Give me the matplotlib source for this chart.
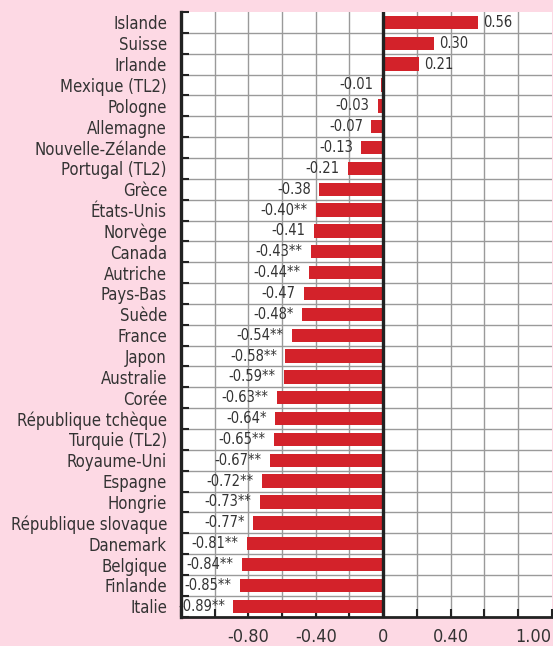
import matplotlib
matplotlib.use("Agg")
import matplotlib.pyplot as plt
from matplotlib import font_manager as fm
import numpy as np

# pick a narrow face if one is installed
names = {(f.name, f.stretch) for f in fm.fontManager.ttflist}
if any(nm == "Liberation Sans Narrow" for nm, _ in names):
    plt.rcParams['font.family'] = ['Liberation Sans Narrow', 'DejaVu Sans']
else:
    plt.rcParams['font.family'] = ['DejaVu Sans']
    plt.rcParams['font.stretch'] = 'condensed'

countries = ["Islande", "Suisse", "Irlande", "Mexique (TL2)", "Pologne", "Allemagne",
             "Nouvelle-Zélande", "Portugal (TL2)", "Grèce", "États-Unis", "Norvège",
             "Canada", "Autriche", "Pays-Bas", "Suède", "France", "Japon", "Australie",
             "Corée", "République tchèque", "Turquie (TL2)", "Royaume-Uni", "Espagne",
             "Hongrie", "République slovaque", "Danemark", "Belgique", "Finlande", "Italie"]
values = [0.56, 0.30, 0.21, -0.01, -0.03, -0.07, -0.13, -0.21, -0.38, -0.40, -0.41,
          -0.43, -0.44, -0.47, -0.48, -0.54, -0.58, -0.59, -0.63, -0.64, -0.65, -0.67,
          -0.72, -0.73, -0.77, -0.81, -0.84, -0.85, -0.89]
stars = ["", "", "", "", "", "", "", "", "", "**", "", "**", "**", "", "*", "**", "**",
         "**", "**", "*", "**", "**", "**", "**", "*", "**", "**", "**", "**"]

pink = "#fdd9e4"
red = "#d3222a"
text_col = "#333333"

fig = plt.figure(figsize=(5.53, 6.46), dpi=100, facecolor=pink)
ax = fig.add_axes([0.327, 0.0454, 0.6707, 0.936])
ax.set_facecolor("white")

n = len(countries)
y = np.arange(n)
ax.barh(y, values, height=0.64, color=red, zorder=3)

ax.set_xlim(-1.2, 1.0)
ax.set_ylim(n - 0.5, -0.5)

# grid: vertical every 0.2, horizontal between rows
for gx in np.arange(-1.0, 1.0, 0.2):
    ax.axvline(gx, color="#9a9a9a", lw=1.0, zorder=1)
for gy in np.arange(0.5, n - 0.5, 1):
    ax.axhline(gy, color="#9a9a9a", lw=1.0, zorder=1)
ax.axvline(0, color="#222222", lw=2.4, zorder=4)

for i, (v, s) in enumerate(zip(values, stars)):
    lab = f"{v:.2f}" + s
    if v >= 0:
        ax.annotate(lab, (v, i), xytext=(4, 0), textcoords="offset points",
                    ha="left", va="center", fontsize=10.5, color=text_col, zorder=5)
    else:
        ax.annotate(lab, (v, i), xytext=(-6, 0), textcoords="offset points",
                    ha="right", va="center", fontsize=10.5, color=text_col, zorder=5)

ax.set_yticks(np.arange(-0.5, n, 1))
ax.set_yticklabels([])
ax.set_yticks(y, minor=True)
ax.set_yticklabels(countries, minor=True, fontsize=12, color=text_col)
ax.tick_params(axis="y", which="minor", length=0, pad=10)
ax.tick_params(axis="y", which="major", direction="in", length=6, width=1.5, color="#222222")

ax.set_xticks(np.arange(-1.2, 1.01, 0.2))
xl = []
for t in np.arange(-1.2, 1.01, 0.2):
    t = round(t, 2)
    if t in (-0.8, -0.4, 0.4, 1.0):
        xl.append(f"{t:.2f}")
    elif t == 0:
        xl.append("0")
    else:
        xl.append("")
ax.set_xticklabels(xl, fontsize=13, color=text_col)
ax.get_xticklabels()[-1].set_ha("right")
ax.tick_params(axis="x", direction="in", length=6, width=1.5, color="#222222", pad=8.5)

for side in ("top", "right"):
    ax.spines[side].set_visible(False)
ax.spines["left"].set_linewidth(2.4)
ax.spines["left"].set_color("#222222")
ax.spines["bottom"].set_linewidth(2.0)
ax.spines["bottom"].set_color("#222222")
ax.spines["left"].set_zorder(6)
ax.spines["bottom"].set_zorder(6)

fig.savefig("out.png", dpi=100, facecolor=pink)
